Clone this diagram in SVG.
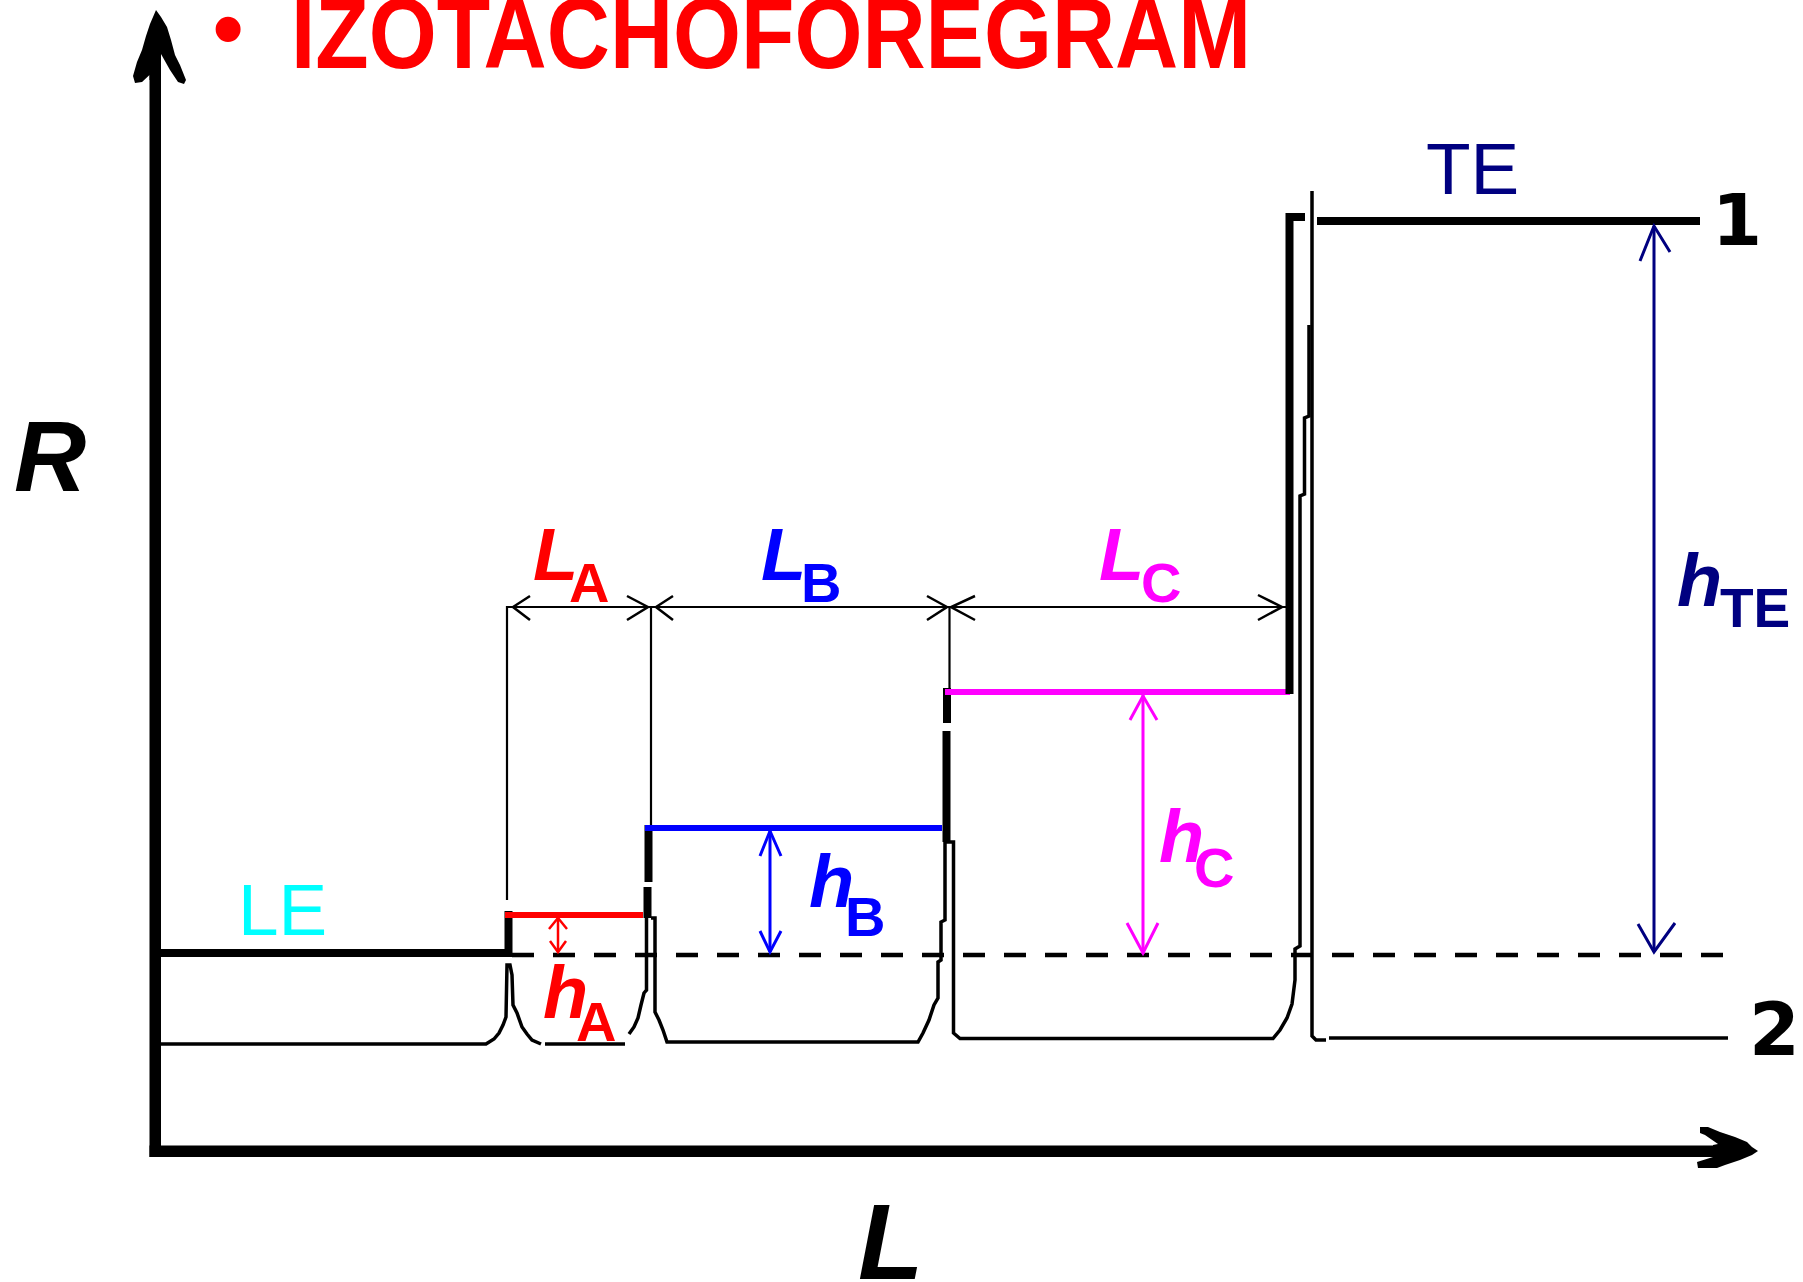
<svg xmlns="http://www.w3.org/2000/svg" width="1803" height="1282" viewBox="0 0 1803 1282">
<style>
.sans{font-family:"Liberation Sans",Arial,sans-serif}
.dv{font-family:"DejaVu Sans","Liberation Sans",sans-serif;font-weight:bold}
.bi{font-family:"Liberation Sans",Arial,sans-serif;font-weight:bold;font-style:italic}
.sub{font-family:"Liberation Sans",Arial,sans-serif;font-weight:bold}
.thick{fill:none;stroke:#000;stroke-width:8;stroke-linejoin:miter;stroke-linecap:butt}
.trace{fill:none;stroke:#000;stroke-width:3.5;stroke-linejoin:miter}
.thin{fill:none;stroke:#000;stroke-width:2.2}
.dim{fill:none;stroke:#000;stroke-width:2.5}
</style>
<rect width="1803" height="1282" fill="#fff"/>

<g id="title">
<text class="sans" x="212" y="60" font-size="92" fill="#ff0000">•</text>
<text class="sans" x="291" y="68" font-size="100" font-weight="bold" fill="#ff0000" textLength="960" lengthAdjust="spacingAndGlyphs">IZOTACHOFOREGRAM</text>
</g>

<g id="axes">
<rect x="149.5" y="70" width="11.5" height="1087" fill="#000"/>
<polygon points="156,10 161,17 167,27 171,40 175,55 180,65 186,80 184,84 178,82 170,70 161,54 161,80 149.5,80 149.5,75 142,82 135,83 133,76 137,62 142,50 146,36 150,24" fill="#000"/>
<rect x="149.5" y="1145.5" width="1566" height="11.5" fill="#000"/>
<polygon points="1700,1127 1708,1127 1720,1132 1735,1137 1747,1142 1752,1147 1758,1151 1752,1155 1740,1160 1725,1165 1717,1168 1698,1168 1697,1162 1713,1157 1713,1145 1718,1144 1705,1135 1700,1133" fill="#000"/>
<text class="bi" x="14" y="491" font-size="100" fill="#000">R</text>
<text class="bi" x="858" y="1279" font-size="107" fill="#000">L</text>
</g>

<g id="connectors">
<line x1="512" y1="955" x2="1728" y2="955" stroke="#000" stroke-width="4.5" stroke-dasharray="22 19"/>
<line class="thin" x1="507" y1="606" x2="507" y2="900"/>
<line class="thin" x1="651" y1="606" x2="651" y2="825"/>
<line class="thin" x1="949.5" y1="606" x2="949.5" y2="689"/>
<line class="thin" x1="507" y1="607" x2="1287" y2="607"/>
<path class="dim" d="M530,596 L513,607 L530,620"/>
<path class="dim" d="M627,596 L648,607 L627,620"/>
<path class="dim" d="M673,596 L656,607 L673,620"/>
<path class="dim" d="M927,596 L947,607 L927,620"/>
<path class="dim" d="M975,596 L951,607 L975,620"/>
<path class="dim" d="M1258,595 L1282,607 L1258,620"/>

<path class="trace" d="M161,1044 H486 L494,1039 L499,1033 L503,1025 L506,1017 L507,965 L510,965 L512,975 L513,1005 L517,1013 L522,1027 L527,1034 L532,1040 L541,1044"/>
<path class="trace" d="M545,1044 H625"/>
<path class="trace" d="M629,1034 L634,1027 L638,1018 L641,1005 L644,993 L646.5,990 V917"/>
<path class="trace" d="M651,918 H655 V1012 L659,1020 L663,1030 L667,1042 H918 L923,1033 L929,1020 L934,1005 L938,998 V962 L941,960 V922 L945,920 V842 H953.5 V1033 L960,1038.5 H1273 L1280,1030 L1287,1018 L1292,1004 L1295,980 V949 L1300,946 V496 L1304.5,494 V418 L1309,416 V325"/>
<path class="trace" d="M1312,191 V1036 L1316,1040 H1326"/>
<path class="trace" d="M1329,1038 H1728"/>

<path class="thick" d="M161,953 H508.5 V911"/>
<path fill="none" stroke="#ff0000" stroke-width="6" d="M505,915 H643"/>
<path class="thick" stroke-width="7" d="M648.5,825 V882"/>
<path class="thick" stroke-width="5" d="M647.5,887 V918"/>
<path fill="none" stroke="#0000ff" stroke-width="6" d="M645,828 H942"/>
<path class="thick" d="M947,688 V723"/>
<path class="thick" stroke-width="7" d="M946.5,731 V842"/>
<path fill="none" stroke="#ff00ff" stroke-width="6" d="M945,692 H1290"/>
<path class="thick" stroke-width="7.5" d="M1289.5,694 V217 H1305"/>
<path class="thick" stroke-width="9" d="M1317,221 H1700"/>

<g fill="none" stroke="#ff0000" stroke-width="2.5">
<line x1="558" y1="918" x2="558" y2="952"/>
<path d="M549,929 L558,918 L567,929"/>
<path d="M550,941 L558,952 L566,941"/>
</g>
<g fill="none" stroke="#0000ff" stroke-width="3">
<line x1="770" y1="830" x2="770" y2="952"/>
<path d="M760,856 L770,831 L781,856"/>
<path d="M760,931 L770,952 L781,931"/>
</g>
<g fill="none" stroke="#ff00ff" stroke-width="3">
<line x1="1143" y1="695" x2="1143" y2="954"/>
<path d="M1130,720 L1143,696 L1157,720"/>
<path d="M1127,923 L1143,953 L1158,923"/>
</g>
<g fill="none" stroke="#000080" stroke-width="3">
<line x1="1654" y1="226" x2="1654" y2="952"/>
<path d="M1640,261 L1654,226 L1670,252"/>
<path d="M1638,924 L1654,952 L1675,923"/>
</g>
</g>

<g id="label-LE"><text class="sans" x="238" y="935" font-size="73" fill="#00ffff">LE</text></g>
<g id="label-TE"><text class="sans" x="1426" y="194" font-size="73" fill="#000080">TE</text></g>
<g id="label-1"><text class="dv" x="1712" y="245" font-size="72" fill="#000">1</text></g>
<g id="label-2"><text class="dv" x="1749" y="1055" font-size="73" fill="#000">2</text></g>

<g id="label-LA"><text class="bi" x="533" y="580" font-size="74" fill="#ff0000">L</text><text class="sub" x="569" y="602" font-size="56" fill="#ff0000">A</text></g>
<g id="label-LB"><text class="bi" x="761" y="580" font-size="74" fill="#0000ff">L</text><text class="sub" x="801" y="602" font-size="56" fill="#0000ff">B</text></g>
<g id="label-LC"><text class="bi" x="1099" y="580" font-size="74" fill="#ff00ff">L</text><text class="sub" x="1141" y="602" font-size="56" fill="#ff00ff">C</text></g>

<g id="label-hA"><text class="bi" x="543" y="1018" font-size="74" fill="#ff0000">h</text><text class="sub" x="576" y="1041" font-size="56" fill="#ff0000">A</text></g>
<g id="label-hB"><text class="bi" x="809" y="907" font-size="74" fill="#0000ff">h</text><text class="sub" x="845" y="936" font-size="56" fill="#0000ff">B</text></g>
<g id="label-hC"><text class="bi" x="1159" y="862" font-size="74" fill="#ff00ff">h</text><text class="sub" x="1194" y="887" font-size="56" fill="#ff00ff">C</text></g>
<g id="label-hTE"><text class="bi" x="1677" y="606" font-size="74" fill="#000080">h</text><text class="sub" x="1720" y="627" font-size="55" fill="#000080">TE</text></g>
</svg>
